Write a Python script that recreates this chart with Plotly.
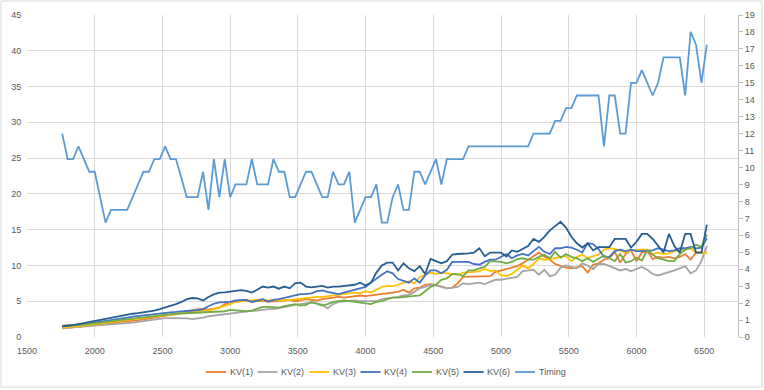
import plotly.graph_objects as go

x_values = [1760 + 40 * i for i in range(120)]

kv1 = [1.2, 1.25, 1.3, 1.4, 1.5, 1.58, 1.65, 1.75, 1.85, 1.95,
       2.05, 2.1, 2.15, 2.25, 2.35, 2.45, 2.6, 2.75, 2.9, 3.0,
       3.1, 3.2, 3.3, 3.45, 3.7, 3.9, 3.9, 3.85, 3.95, 4.1,
       4.6, 4.9, 4.9, 5.1, 5.1, 4.9, 5.0, 5.1, 4.9, 5.0,
       5.0, 5.1, 5.2, 5.0, 5.2, 5.3, 5.2, 5.1, 5.3, 5.4,
       5.5, 5.6, 5.5, 5.6, 5.7, 5.8, 5.7, 5.8, 5.8, 5.9,
       6.1, 6.2, 6.3, 6.6, 6.2, 6.8, 6.9, 7.3, 7.4, 7.3,
       7.0, 6.8, 6.9, 7.5, 8.4, 8.4, 8.4, 8.4, 8.5, 8.5,
       9.1, 9.3, 9.5, 9.7, 9.9, 10.3, 10.8, 11.25, 11.8, 11.25,
       10.8, 10.2, 9.9, 9.7, 9.6, 9.8, 9.9, 9.0, 10.1, 10.3,
       10.8, 11.0, 11.9, 10.4, 11.6, 12.1, 10.6, 11.8, 12.0, 10.9,
       11.2, 11.1, 11.2, 11.0, 11.2, 11.6, 10.8, 11.8, 11.8, 11.8]

kv2 = [1.25, 1.3, 1.35, 1.4, 1.45, 1.5, 1.55, 1.65, 1.7, 1.75,
       1.8, 1.85, 1.9, 2.0, 2.1, 2.2, 2.35, 2.5, 2.6, 2.65,
       2.65, 2.65, 2.65, 2.6, 2.5, 2.55, 2.7, 2.9, 3.0, 3.15,
       3.25, 3.35, 3.4, 3.55, 3.6, 3.65, 3.7, 3.85, 3.9, 3.9,
       4.0, 4.2, 4.3, 4.5, 4.6, 4.7, 4.8, 4.7, 4.5, 4.0,
       4.6, 4.9, 5.0, 5.1, 5.1, 5.0, 5.0, 4.9, 5.0, 5.3,
       5.4, 5.4, 5.6, 5.8, 5.9, 6.3, 6.8, 7.0, 7.3, 7.2,
       7.0, 6.8, 6.9, 7.0, 7.5, 7.4, 7.5, 7.6, 7.4, 7.7,
       8.0, 8.0, 8.1, 8.3, 8.4, 9.2, 9.3, 9.4, 8.7, 9.4,
       8.5, 8.7, 9.7, 10.0, 9.8, 9.6, 10.3, 10.0, 9.5, 10.2,
       10.2, 9.9, 9.6, 9.3, 9.5, 9.2, 9.5, 9.8, 9.4, 8.8,
       8.6, 8.8, 9.0, 9.3, 9.6, 9.9, 8.9, 9.3, 10.6, 12.7]

kv3 = [1.3, 1.35, 1.4, 1.5, 1.6, 1.7, 1.8, 1.9, 2.0, 2.1,
       2.2, 2.3, 2.4, 2.5, 2.6, 2.7, 2.8, 2.9, 3.0, 3.1,
       3.2, 3.3, 3.35, 3.45, 3.5, 3.55, 3.6, 3.7, 3.9, 4.1,
       4.3, 4.6, 4.9, 5.0, 5.1, 5.2, 5.2, 5.2, 5.1, 5.2,
       5.1, 5.1, 5.2, 5.3, 5.4, 5.5, 5.5, 5.6, 5.6, 5.7,
       5.8, 5.8, 5.9, 6.0, 6.2, 6.1, 6.4, 6.2, 6.6, 7.0,
       7.1, 7.1, 7.3, 7.6, 7.8, 7.5, 8.4, 8.7, 9.0, 8.8,
       9.0, 8.9, 8.8, 8.7, 9.0, 9.0, 9.1, 9.2, 9.5, 9.2,
       9.3, 8.6, 8.5, 8.8, 9.4, 10.0, 9.6, 10.2, 11.0, 10.8,
       10.9, 11.0, 11.1, 11.3, 10.6, 11.2, 11.5, 11.0, 11.3, 11.5,
       12.2, 12.4, 12.3, 12.0, 11.8, 12.1, 12.2, 12.2, 12.2, 11.6,
       11.8, 11.6, 11.7, 12.0, 12.1, 12.3, 12.4, 11.8, 11.8, 11.8]

kv4 = [1.5, 1.55, 1.6, 1.7, 1.8, 1.9, 2.0, 2.15, 2.3, 2.4,
       2.5, 2.6, 2.7, 2.85, 2.95, 3.05, 3.15, 3.25, 3.35, 3.4,
       3.45, 3.5, 3.6, 3.65, 3.7, 3.75, 3.9, 4.3, 4.65, 4.85,
       4.9, 4.9, 5.1, 5.2, 5.2, 4.9, 5.1, 5.3, 4.95, 5.2,
       5.3, 5.5, 5.6, 5.9, 6.0, 6.0, 6.1, 6.4, 6.5, 6.3,
       6.1, 6.0, 6.2, 6.4, 6.7, 6.9, 7.0, 7.6, 8.2, 8.7,
       9.2, 8.9, 8.1, 7.8, 7.6, 8.2, 7.6, 8.6, 9.3, 9.3,
       8.9, 9.4, 10.5, 10.5, 10.5, 10.5, 10.2, 10.1, 10.5, 10.8,
       10.8, 11.2, 11.6, 11.0, 11.4, 11.6, 11.4, 12.0, 12.6, 11.9,
       11.6, 12.4, 12.4, 12.6, 12.5, 12.2, 11.8, 13.1, 13.0, 12.3,
       11.2, 11.2, 12.0, 12.2, 12.0, 12.2, 12.0, 12.0, 12.0, 12.1,
       12.4, 12.2, 12.0, 12.1, 12.4, 12.4, 12.6, 12.4, 12.5, 13.8]

kv5 = [1.6, 1.6, 1.65, 1.7, 1.75, 1.8, 1.9, 2.0, 2.1, 2.2,
       2.2, 2.3, 2.4, 2.5, 2.6, 2.7, 2.8, 2.9, 3.0, 3.1,
       3.2, 3.25, 3.3, 3.35, 3.4, 3.45, 3.5, 3.5, 3.5, 3.6,
       3.6, 3.8, 3.7, 3.7, 3.6, 3.7, 3.9, 4.2, 4.2, 4.2,
       4.1, 4.3, 4.5, 4.6, 4.4, 4.5, 4.9, 4.6, 4.4, 4.6,
       4.9, 5.0, 5.1, 5.0, 4.9, 4.9, 4.8, 4.6, 4.9, 5.0,
       5.3, 5.5, 5.5, 5.6, 5.6, 5.7, 5.8, 6.4, 7.0, 7.3,
       8.0, 8.2, 8.8, 8.8, 8.5, 9.3, 9.3, 9.6, 9.8, 10.6,
       10.6, 10.5, 10.3, 10.5, 10.9, 11.0, 10.8, 10.8, 11.2, 11.5,
       11.0, 11.9, 11.1, 11.6, 11.2, 11.0, 10.6, 11.0, 10.5, 11.0,
       11.4, 11.0, 10.6, 11.6, 10.4, 10.6, 11.1, 10.7, 12.1, 11.5,
       11.0, 10.8, 10.6, 10.6, 11.6, 12.2, 12.4, 12.9, 12.6, 14.3]

kv6 = [1.5, 1.55, 1.65, 1.8, 1.95, 2.1, 2.2, 2.45, 2.6, 2.75,
       2.9, 3.0, 3.15, 3.25, 3.35, 3.45, 3.55, 3.7, 3.9, 4.1,
       4.35, 4.6, 4.9, 5.3, 5.45, 5.4, 5.1, 5.6, 5.95, 6.2,
       6.25, 6.35, 6.5, 6.55, 6.45, 6.2, 6.6, 7.05, 6.9, 7.05,
       6.75, 7.05, 6.8, 7.5, 7.6, 7.05, 6.95, 7.05, 7.15, 6.9,
       7.05, 7.05, 7.15, 7.3, 7.3, 7.6, 7.2, 7.6, 9.0, 10.0,
       10.4, 10.4, 9.3, 10.3, 9.6, 9.2, 9.9, 8.8, 10.9, 10.6,
       10.3, 10.6, 11.5, 11.6, 11.6, 11.7, 11.8, 12.4, 11.3, 11.8,
       11.8, 11.8, 11.25, 12.1, 11.9, 12.3, 12.7, 13.7, 13.3, 14.0,
       14.9, 15.5, 16.1, 15.3, 14.0, 13.1, 12.5, 13.1, 12.1, 12.55,
       12.55, 12.55, 13.7, 13.7, 13.7, 12.5, 13.3, 14.4, 14.4, 13.7,
       12.7, 11.8, 14.4, 12.7, 11.8, 14.4, 14.4, 11.8, 11.8, 15.7]

timing = [12, 10.5, 10.5, 11.25, 10.5, 9.75, 9.75, 8.25, 6.75, 7.5,
          7.5, 7.5, 7.5, 8.25, 9, 9.75, 9.75, 10.5, 10.5, 11.25,
          10.5, 10.5, 9.375, 8.25, 8.25, 8.25, 9.75, 7.5, 10.5, 8.25,
          10.5, 8.25, 9, 9, 9, 10.5, 9, 9, 9, 10.5,
          9.75, 9.75, 8.25, 8.25, 9, 9.75, 9.75, 9, 8.25, 8.25,
          9.75, 9, 9, 9.75, 6.75, 7.5, 8.25, 8.25, 9, 6.75,
          6.75, 8.25, 9, 7.5, 7.5, 9.75, 9.75, 9, 9.75, 10.5,
          9, 10.5, 10.5, 10.5, 10.5, 11.25, 11.25, 11.25, 11.25, 11.25,
          11.25, 11.25, 11.25, 11.25, 11.25, 11.25, 11.25, 12, 12, 12,
          12, 12.75, 12.75, 13.5, 13.5, 14.25, 14.25, 14.25, 14.25, 14.25,
          11.25, 14.25, 14.25, 12, 12, 15, 15, 15.75, 15, 14.25,
          15, 16.5, 16.5, 16.5, 16.5, 14.25, 18, 17.25, 15, 17.25]

series_names = ["KV(1)", "KV(2)", "KV(3)", "KV(4)", "KV(5)", "KV(6)", "Timing"]
series_values = [kv1, kv2, kv3, kv4, kv5, kv6, timing]
series_colors = ["#ED7D31", "#A5A5A5", "#FFC000", "#4472C4", "#70AD47", "#255E91", "#5B9BD5"]
series_axes = ["y", "y", "y", "y", "y", "y", "y2"]

x_ticks = [1500, 2000, 2500, 3000, 3500, 4000, 4500, 5000, 5500, 6000, 6500]

W, H = 764, 390
ML, MR, MT, MB = 27, 26, 15, 53
PW, PH = W - ML - MR, H - MT - MB


def px_x(sx):
    return (sx - ML) / PW


def px_y(sy):
    return (H - MB - sy) / PH


fig = go.Figure()
for name, vals, col, ax in zip(series_names, series_values, series_colors, series_axes):
    fig.add_trace(go.Scatter(x=x_values, y=vals, name=name, mode="lines",
                             line=dict(color=col, width=1.8), yaxis=ax))

font_family = "Liberation Sans, Arial, sans-serif"

# manual legend (Excel-style compact legend under the plot)
shapes = [dict(type="rect", xref="paper", yref="paper",
               x0=px_x(1), x1=px_x(762), y0=px_y(387), y1=px_y(1),
               line=dict(color="#D9D9D9", width=1), fillcolor="rgba(0,0,0,0)",
               layer="below")]
annotations = []
leg_y = 372
for k, (name, col) in enumerate(zip(series_names, series_colors)):
    x0 = 206 + 51.5 * k
    shapes.append(dict(type="line", xref="paper", yref="paper",
                       x0=px_x(x0), x1=px_x(x0 + 20), y0=px_y(leg_y), y1=px_y(leg_y),
                       line=dict(color=col, width=1.8)))
    annotations.append(dict(xref="paper", yref="paper", x=px_x(x0 + 21.5), y=px_y(leg_y),
                            text=name, showarrow=False, xanchor="left", yanchor="middle",
                            font=dict(family=font_family, size=9, color="#595959")))

fig.update_layout(
    template="none",
    width=W, height=H,
    margin=dict(l=ML, r=MR, t=MT, b=MB, autoexpand=False),
    paper_bgcolor="white", plot_bgcolor="white",
    font=dict(family=font_family, size=9, color="#595959"),
    showlegend=False,
    xaxis=dict(range=[1500, 6750], tickvals=x_ticks, showgrid=True,
               gridcolor="#D9D9D9", gridwidth=1, zeroline=False, automargin=False,
               showline=False, ticks="outside", ticklen=5, tickcolor="rgba(0,0,0,0)",
               tickfont=dict(size=9, color="#595959")),
    yaxis=dict(range=[0, 45], dtick=5, showgrid=True, gridcolor="#D9D9D9",
               gridwidth=1, zeroline=False, showline=False, automargin=False,
               ticks="outside", ticklen=3, tickcolor="rgba(0,0,0,0)",
               tickfont=dict(size=9, color="#595959")),
    yaxis2=dict(range=[0, 19], dtick=1, overlaying="y", side="right",
                showgrid=False, zeroline=False, showline=True, automargin=False,
                linecolor="#BFBFBF", linewidth=1, ticks="outside", ticklen=4,
                tickcolor="#BFBFBF", tickfont=dict(size=9, color="#595959")),
    shapes=shapes,
    annotations=annotations,
)

fig.write_html("out.html", config={"displayModeBar": False},
               post_script="document.body.style.margin='0';document.body.style.padding='0';")
